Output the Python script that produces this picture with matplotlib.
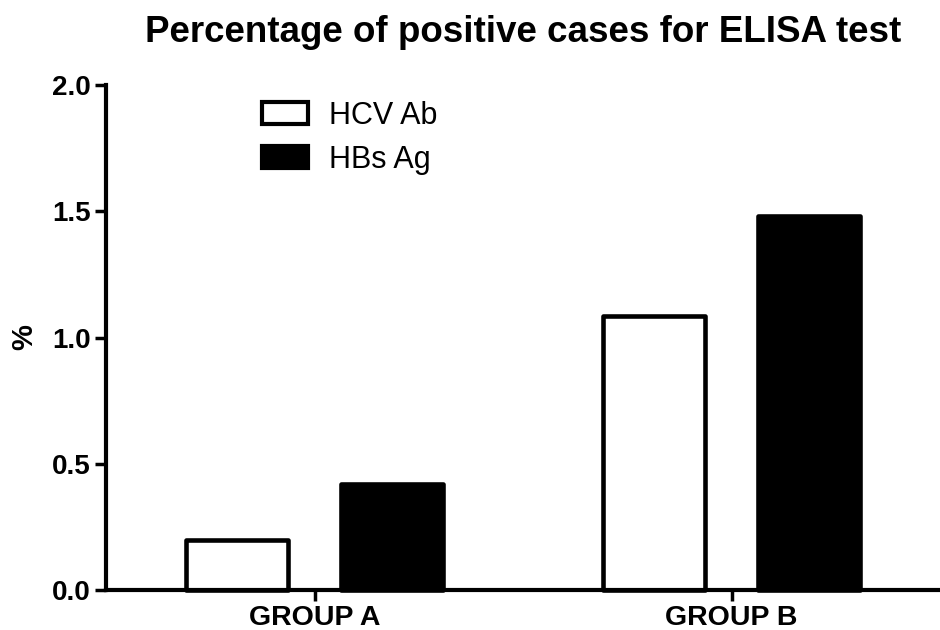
import matplotlib
matplotlib.use("Agg")
import matplotlib.pyplot as plt
import numpy as np

plt.rcParams['font.family'] = ['Liberation Sans', 'DejaVu Sans']

groups = ["GROUP A", "GROUP B"]
series_names = ["HCV Ab", "HBs Ag"]
hcv_ab = [0.20, 1.085]
hbs_ag = [0.42, 1.48]
yticks = [0.0, 0.5, 1.0, 1.5, 2.0]
ytick_labels = ["0.0", "0.5", "1.0", "1.5", "2.0"]

fig = plt.figure(figsize=(9.4, 6.3), dpi=100)
ax = fig.add_axes([106/940, 40/630, 834/940, 505/630])

x = np.arange(len(groups))
w = 0.245
off = 0.186
lw = 3.3
b1 = ax.bar(x - off, hcv_ab, w, facecolor='white', edgecolor='black', linewidth=lw,
            joinstyle='round', label=series_names[0])
b2 = ax.bar(x + off, hbs_ag, w, facecolor='black', edgecolor='black', linewidth=lw,
            joinstyle='round', label=series_names[1])
for b in list(b1) + list(b2):
    b.set_clip_on(False)

ax.set_xlim(-0.5, 1.5)
ax.set_ylim(0, 2.0)
ax.set_yticks(yticks)
ax.set_yticklabels(ytick_labels, fontsize=20, fontweight='bold')
ax.set_xticks(x)
ax.set_xticklabels(groups, fontsize=20.5, fontweight='bold')
ax.tick_params(axis='both', direction='out', length=8, width=2.5, pad=3)

for s in ['top', 'right']:
    ax.spines[s].set_visible(False)
for s in ['left', 'bottom']:
    ax.spines[s].set_linewidth(3)
ax.spines['bottom'].set_zorder(5)

ax.set_ylabel('%', fontsize=21, fontweight='bold', labelpad=10)
ax.set_title('Percentage of positive cases for ELISA test', fontsize=26.5,
             fontweight='bold', pad=31)

leg = ax.legend(loc='upper left', bbox_to_anchor=(262/940, 1 - 101/630),
                bbox_transform=fig.transFigure, frameon=False, fontsize=22,
                handlelength=1.5, handleheight=0.74, handletextpad=0.68,
                labelspacing=0.45, borderpad=0, borderaxespad=0)
for h in leg.legend_handles:
    h.set_linewidth(3)

fig.savefig('out.png', dpi=100)
